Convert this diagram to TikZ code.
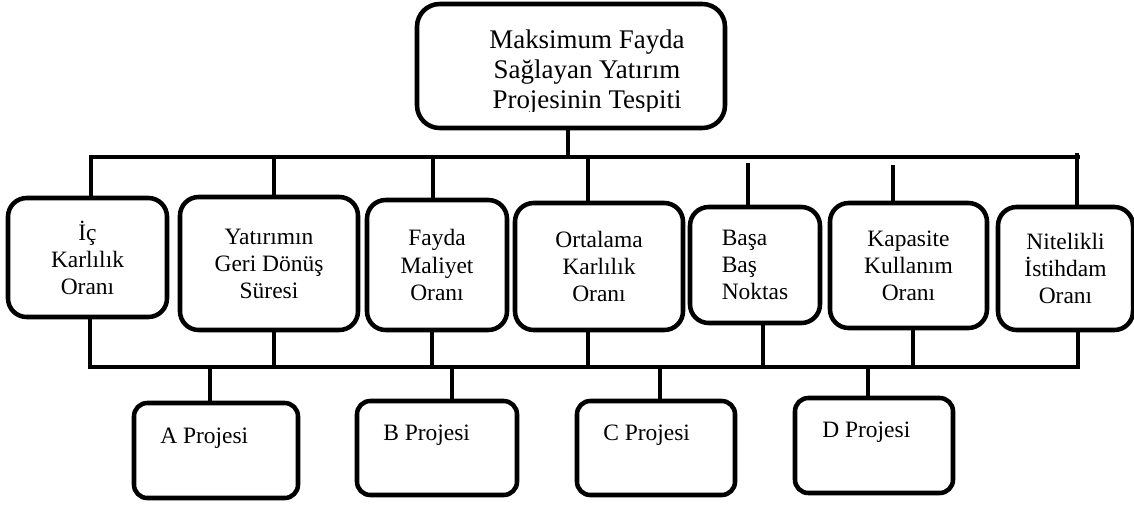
\documentclass[tikz,border=0pt]{standalone}
\usepackage{fontspec}
\setmainfont{Liberation Serif}

\begin{document}
\begin{tikzpicture}[x=0.75pt, y=-0.75pt,
        hat/.style={line width=3.6pt},
        kutu/.style={draw, line width=3.4pt, rounded corners=14pt, inner sep=0pt, align=center,
            font=\fontsize{17.6}{20.3}\selectfont},
        boyut/.style 2 args={minimum width=#1*0.75pt, minimum height=#2*0.75pt},
        yazi/.style={inner sep=0pt, anchor=base west, font=\fontsize{17.6}{20.3}\selectfont}]
        \useasboundingbox (0,0) rectangle (1134,504);

        % ana hedef
        \node[kutu, boyut={308}{124}, rounded corners=17pt] (hedef) at (571,66) {};
        \begin{scope}
            \clip (417,4) rectangle (725,111);
            \node[inner sep=0pt, align=center, font=\fontsize{20.2}{22.5}\selectfont] (hedefyazi) at (587,72)
                {Maksimum Fayda\\Sağlayan Yatırım\\Projesinin Tespiti};
        \end{scope}

        % kriterler
        \node[kutu, boyut={159}{119}] (k1) at (87.5,257.5) {İç\\Karlılık\\Oranı};
        \node[kutu, boyut={178}{133}] (k2) at (269,263.5) {Yatırımın\\Geri Dönüş\\Süresi};
        \node[kutu, boyut={140}{130}] (k3) at (437,265) {Fayda\\Maliyet\\Oranı};
        \node[kutu, boyut={168}{127}] (k4) at (599,266.5) {Ortalama\\Karlılık\\Oranı};
        \node[kutu, boyut={130}{116}, align=left] (k5) at (755,265) {Başa\\Baş\\Noktas};
        \node[kutu, boyut={157}{125}] (k6) at (908.5,265.5) {Kapasite\\Kullanım\\Oranı};
        \node[kutu, boyut={135}{123}] (k7) at (1065.5,268.5) {Nitelikli\\İstihdam\\Oranı};

        % projeler
        \node[kutu, boyut={164}{95}, rounded corners=10pt] (pa) at (216,450.5) {};
        \node[kutu, boyut={160}{94}, rounded corners=10pt] (pb) at (437,448) {};
        \node[kutu, boyut={158}{94}, rounded corners=10pt] (pc) at (656,448) {};
        \node[kutu, boyut={158}{95}, rounded corners=10pt] (pd) at (874,445.5) {};
        \node[yazi] (payazi) at (160,443) {A Projesi};
        \node[yazi] (pbyazi) at (383,440) {B Projesi};
        \node[yazi] (pcyazi) at (603,440) {C Projesi};
        \node[yazi] (pdyazi) at (822,437) {D Projesi};

        % ust ve alt hatlar
        \coordinate (ubas) at (89,157);
        \coordinate (uson) at (1080,157);
        \coordinate (abas) at (88,367);
        \coordinate (ason) at (1080,367);
        \coordinate (orta) at (568,157);
        \draw[hat] (ubas) -- (uson);
        \draw[hat] (abas) -- (ason);
        \draw[hat] (hedef.south -| orta) -- (orta);

        \foreach \i/\ux/\uy/\ax in {1/91/157/90, 2/274/157/274, 3/433/157/432, 4/588/157/588,
                5/748/163/763, 6/893/165/913, 7/1077/153/1078} {
            \coordinate (u\i) at (\ux,\uy);
            \coordinate (a\i) at (\ax,367);
            \draw[hat] (u\i) -- (u\i |- k\i.north);
            \draw[hat] (k\i.south -| a\i) -- (a\i);
        }

        \foreach \p/\bx in {a/210, b/452, c/660, d/868} {
            \coordinate (b\p) at (\bx,367);
            \draw[hat] (b\p) -- (b\p |- p\p.north);
        }
\end{tikzpicture}
\end{document}
